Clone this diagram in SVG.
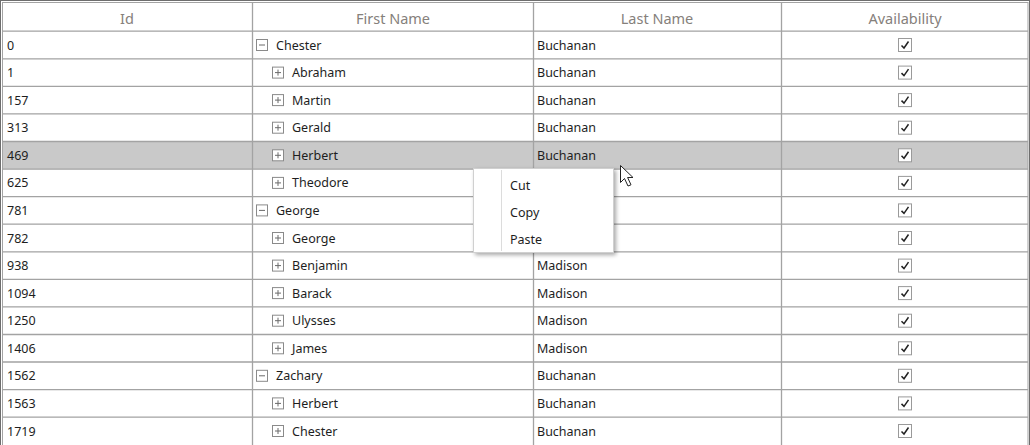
<svg xmlns="http://www.w3.org/2000/svg" xmlns:xlink="http://www.w3.org/1999/xlink" width="1030" height="445" viewBox="0 0 1030 445">
<style>
.t{font-family:"Noto Sans","Open Sans","Liberation Sans",sans-serif;font-size:12.5px;fill:#1e1e1e}
.h{font-family:"Noto Sans","Open Sans","Liberation Sans",sans-serif;font-size:14.5px;fill:#85807b;text-anchor:middle}
.m{font-family:"Noto Sans","Open Sans","Liberation Sans",sans-serif;font-size:12.5px;fill:#1e1e1e}
.g{stroke:#a3a3a3;stroke-width:1.3;fill:none}
</style>
<defs>
<g id="minus"><rect x="-5.5" y="-5.5" width="11" height="11" fill="#fff" stroke="#8a8a8a"/><line x1="-3" y1="0" x2="3" y2="0" stroke="#6a6a6a"/></g>
<g id="plus"><rect x="-5.5" y="-5.5" width="11" height="11" fill="#fff" stroke="#8a8a8a"/><line x1="-3" y1="0" x2="3" y2="0" stroke="#6a6a6a"/><line x1="0" y1="-3" x2="0" y2="3" stroke="#6a6a6a"/></g>
<g id="chk"><rect x="-6.5" y="-6.5" width="13" height="13" fill="#fff" stroke="#9a9a9a"/><path d="M-3.5,0.5 L-1,3 L3.5,-3.5" fill="none" stroke="#222" stroke-width="1.5"/></g>
<filter id="sh" x="-10%" y="-10%" width="130%" height="130%"><feGaussianBlur in="SourceAlpha" stdDeviation="2"/><feOffset dx="2" dy="2"/><feComponentTransfer><feFuncA type="linear" slope="0.35"/></feComponentTransfer><feMerge><feMergeNode/><feMergeNode in="SourceGraphic"/></feMerge></filter>
</defs>
<rect x="0" y="0" width="1030" height="445" fill="#fff"/>
<rect id="selected" x="3" y="141.5" width="1025" height="27.6" fill="#c9c9c9"/>
<g id="header">
<text class="h" x="127" y="24">Id</text>
<text class="h" x="393" y="24">First Name</text>
<text class="h" x="657" y="24">Last Name</text>
<text class="h" x="905" y="24">Availability</text>
</g>
<g id="grid" class="g">
<line x1="252.5" y1="3" x2="252.5" y2="445"/>
<line x1="533.5" y1="3" x2="533.5" y2="445"/>
<line x1="781.5" y1="3" x2="781.5" y2="445"/>
<path d="M3,31.2H1028M3,58.8H1028M3,86.3H1028M3,113.9H1028M3,141.5H1028M3,169.1H1028M3,196.6H1028M3,224.2H1028M3,251.8H1028M3,279.3H1028M3,306.9H1028M3,334.5H1028M3,362H1028M3,389.6H1028M3,417.2H1028"/>
</g>
<g id="frame">
<rect x="0.5" y="0.5" width="1029" height="446" fill="none" stroke="#6e6e6e"/>
<rect x="2.5" y="2.5" width="1025.5" height="444" fill="none" stroke="#a3a3a3"/>
</g>
<g id="row0"><text class="t" x="7" y="49.5">0</text><use xlink:href="#minus" x="262" y="45"/><text class="t" x="276" y="49.5">Chester</text><text class="t" x="537" y="49.5">Buchanan</text><use xlink:href="#chk" x="905" y="45"/></g>
<g id="row1"><text class="t" x="7" y="77.1">1</text><use xlink:href="#plus" x="278" y="72.6"/><text class="t" x="292" y="77.1">Abraham</text><text class="t" x="537" y="77.1">Buchanan</text><use xlink:href="#chk" x="905" y="72.6"/></g>
<g id="row2"><text class="t" x="7" y="104.6">157</text><use xlink:href="#plus" x="278" y="100.1"/><text class="t" x="292" y="104.6">Martin</text><text class="t" x="537" y="104.6">Buchanan</text><use xlink:href="#chk" x="905" y="100.1"/></g>
<g id="row3"><text class="t" x="7" y="132.2">313</text><use xlink:href="#plus" x="278" y="127.7"/><text class="t" x="292" y="132.2">Gerald</text><text class="t" x="537" y="132.2">Buchanan</text><use xlink:href="#chk" x="905" y="127.7"/></g>
<g id="row4"><text class="t" x="7" y="159.8">469</text><use xlink:href="#plus" x="278" y="155.3"/><text class="t" x="292" y="159.8">Herbert</text><text class="t" x="537" y="159.8">Buchanan</text><use xlink:href="#chk" x="905" y="155.3"/></g>
<g id="row5"><text class="t" x="7" y="187.4">625</text><use xlink:href="#plus" x="278" y="182.9"/><text class="t" x="292" y="187.4">Theodore</text><use xlink:href="#chk" x="905" y="182.9"/></g>
<g id="row6"><text class="t" x="7" y="214.9">781</text><use xlink:href="#minus" x="262" y="210.4"/><text class="t" x="276" y="214.9">George</text><use xlink:href="#chk" x="905" y="210.4"/></g>
<g id="row7"><text class="t" x="7" y="242.5">782</text><use xlink:href="#plus" x="278" y="238"/><text class="t" x="292" y="242.5">George</text><use xlink:href="#chk" x="905" y="238"/></g>
<g id="row8"><text class="t" x="7" y="270.1">938</text><use xlink:href="#plus" x="278" y="265.6"/><text class="t" x="292" y="270.1">Benjamin</text><text class="t" x="537" y="270.1">Madison</text><use xlink:href="#chk" x="905" y="265.6"/></g>
<g id="row9"><text class="t" x="7" y="297.6">1094</text><use xlink:href="#plus" x="278" y="293.1"/><text class="t" x="292" y="297.6">Barack</text><text class="t" x="537" y="297.6">Madison</text><use xlink:href="#chk" x="905" y="293.1"/></g>
<g id="row10"><text class="t" x="7" y="325.2">1250</text><use xlink:href="#plus" x="278" y="320.7"/><text class="t" x="292" y="325.2">Ulysses</text><text class="t" x="537" y="325.2">Madison</text><use xlink:href="#chk" x="905" y="320.7"/></g>
<g id="row11"><text class="t" x="7" y="352.8">1406</text><use xlink:href="#plus" x="278" y="348.3"/><text class="t" x="292" y="352.8">James</text><text class="t" x="537" y="352.8">Madison</text><use xlink:href="#chk" x="905" y="348.3"/></g>
<g id="row12"><text class="t" x="7" y="380.3">1562</text><use xlink:href="#minus" x="262" y="375.8"/><text class="t" x="276" y="380.3">Zachary</text><text class="t" x="537" y="380.3">Buchanan</text><use xlink:href="#chk" x="905" y="375.8"/></g>
<g id="row13"><text class="t" x="7" y="407.9">1563</text><use xlink:href="#plus" x="278" y="403.4"/><text class="t" x="292" y="407.9">Herbert</text><text class="t" x="537" y="407.9">Buchanan</text><use xlink:href="#chk" x="905" y="403.4"/></g>
<g id="row14"><text class="t" x="7" y="435.5">1719</text><use xlink:href="#plus" x="278" y="431"/><text class="t" x="292" y="435.5">Chester</text><text class="t" x="537" y="435.5">Buchanan</text><use xlink:href="#chk" x="905" y="431"/></g>
<g id="contextmenu">
<rect x="473.5" y="168.5" width="140" height="84" fill="#fff" stroke="#d0d0d0" filter="url(#sh)"/>
<line x1="501.5" y1="170" x2="501.5" y2="251" stroke="#dcdcdc"/>
<text class="m" x="510" y="189.5">Cut</text>
<text class="m" x="510" y="216.8">Copy</text>
<text class="m" x="510" y="244.3">Paste</text>
</g>
<g id="cursor">
<path d="M620.5,165.5 L620.5,182.5 L624.5,178.5 L628,186 L631,184.8 L627.6,177.5 L633,177.5 Z" fill="#fff" stroke="#222" stroke-width="1" stroke-linejoin="miter"/>
</g>
</svg>
